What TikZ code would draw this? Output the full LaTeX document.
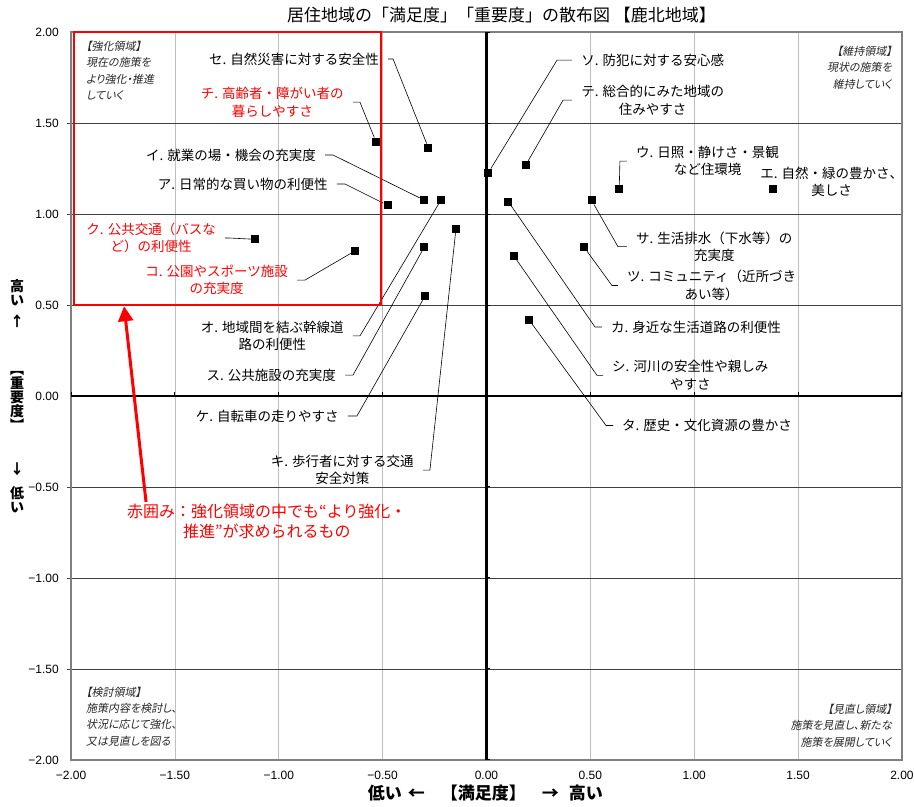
\documentclass[tikz,border=0pt]{standalone}
\usepackage{fontspec}
\setmainfont{Noto Sans CJK JP}
\newfontfamily\notefont{Noto Sans CJK JP}[RawFeature=+palt,FakeSlant=0.2]
\newfontfamily\numfont{Liberation Sans}
\usepackage{tikz}
\usetikzlibrary{positioning,calc,fit,arrows.meta}
\definecolor{colortext}  {RGB}{  0,  0,  0}
\definecolor{colornote}  {RGB}{ 38, 38, 38}
\definecolor{colorgrid}  {RGB}{191,191,191}
\definecolor{colorhgrid} {RGB}{ 64, 64, 64}
\definecolor{colorborder}{RGB}{128,128,128}
\definecolor{colorstress}{RGB}{255,  0,  0}

\begin{document}
\begin{tikzpicture}[
    x=207.75bp, y=182bp,
    base/.style={text=colortext,inner sep=1bp},
    lbl/.style={base,font={\fontsize{13.5bp}{17.5bp}\selectfont},align=center,inner xsep=9bp},
    lblred/.style={lbl,text=colorstress},
    sqpt/.style={rectangle,fill=colortext,minimum size=8bp,inner sep=0pt},
    leader/.style={draw=colortext,line width=0.6bp},
    note/.style={base,text=colornote,font={\notefont\fontsize{11bp}{16.3bp}\selectfont}},
    ticklbl/.style={base,font={\numfont\fontsize{12bp}{14bp}\selectfont}},
    axistitle/.style={base,font={\bfseries\fontsize{14bp}{14bp}\selectfont},align=center},
    vgrid/.style={draw=colorgrid,line width=0.8bp},
    hgrid/.style={draw=colorhgrid,line width=0.9bp},
    zeroaxis/.style={draw=colortext,line width=2.5bp},
    axistick/.style={draw=colortext,line width=1bp},
    redframe/.style={draw=colorstress,line width=2.5bp,inner sep=0pt},
    redarrow/.style={draw=colorstress,line width=3bp,>={Triangle[length=15bp,width=15bp]},->},
]
    \useasboundingbox (-2.342,-2.258) rectangle (2.058,2.176);

    % grid
    \foreach \v in {-1.5,-1,-0.5,0.5,1,1.5} \draw[vgrid] (\v,-2) -- (\v,2);
    \foreach \v in {-1.5,-1,-0.5,0.5,1,1.5} \draw[hgrid] (-2,\v) ++(-4bp,0) -- (2,\v);
    \draw[draw=colorborder,line width=1.5bp] (-2,-2) rectangle (2,2);
    \draw[zeroaxis] (-2,0) -- (2,0);
    \draw[zeroaxis] (0,-2) -- (0,2);
    \foreach \v in {-2,-1.5,-1,-0.5,0.5,1,1.5,2} {
        \draw[axistick] (\v,0) -- ++(0,4bp);
        \draw[axistick] (0,\v) -- ++(4bp,0);
    }

    % scales
    \foreach \v/\t [count=\i] in {-2/−2.00,-1.5/−1.50,-1/−1.00,-0.5/−0.50,0/0.00,0.5/0.50,1/1.00,1.5/1.50,2/2.00} {
        \node[ticklbl]           (xtick\i) at (\v,-2.082) {\t};
        \node[ticklbl,anchor=east] (ytick\i) at (-2.053,\v) {\t};
    }

    \node[base,font={\fontsize{17bp}{18bp}\selectfont}] (title) at (0.072,2.093) {居住地域の「満足度」「重要度」の散布図 【鹿北地域】};
    \node[axistitle,font={\bfseries\fontsize{17bp}{17bp}\selectfont}] (xtitle) at (-0.005,-2.181) {低い\hspace{6bp}←\hspace{16bp}【満足度】\hspace{16bp}→\hspace{10bp}高い};
    \node[axistitle] (ytitle) at (-2.26,0) {高\\い\\[7bp]↑\\[34bp]︻\\重\\要\\度\\︼\\[30bp]↓\\[10bp]低\\い};

    % areas
    \node[note,anchor=north west,align=left]  (noteTL) at (-1.933,1.956)  {【強化領域】\\現在の施策を\\より強化・推進\\していく};
    \node[note,anchor=north east,align=right] (noteTR) at (1.957,1.929)   {【維持領域】\\現状の施策を\\維持していく};
    \node[note,anchor=north west,align=left]  (noteBL) at (-1.933,-1.593) {【検討領域】\\施策内容を検討し、\\状況に応じて強化、\\又は見直しを図る};
    \node[note,anchor=north east,align=right] (noteBR) at (1.957,-1.687)  {【見直し領域】\\施策を見直し、新たな\\施策を展開していく};

    % items
    \node[sqpt] (ptA)   at (-0.476,1.048) {};
    \node[sqpt] (ptI)   at (-0.301,1.077) {};
    \node[sqpt] (ptU)   at (0.639,1.139)  {};
    \node[sqpt] (ptE)   at (1.380,1.139)  {};
    \node[sqpt] (ptO)   at (-0.219,1.077) {};
    \node[sqpt] (ptKa)  at (0.105,1.068)  {};
    \node[sqpt] (ptKi)  at (-0.147,0.919) {};
    \node[sqpt] (ptKu)  at (-1.114,0.861) {};
    \node[sqpt] (ptKe)  at (-0.296,0.549) {};
    \node[sqpt] (ptKo)  at (-0.632,0.798) {};
    \node[sqpt] (ptSa)  at (0.506,1.075)  {};
    \node[sqpt] (ptShi) at (0.131,0.771)  {};
    \node[sqpt] (ptSu)  at (-0.299,0.819) {};
    \node[sqpt] (ptSe)  at (-0.280,1.364) {};
    \node[sqpt] (ptSo)  at (0.009,1.227)  {};
    \node[sqpt] (ptTa)  at (0.205,0.418)  {};
    \node[sqpt] (ptChi) at (-0.532,1.397) {};
    \node[sqpt] (ptTsu) at (0.469,0.819)  {};
    \node[sqpt] (ptTe)  at (0.189,1.269)  {};

    \node[lbl,anchor=east]    (lSe)  at (-0.474,1.852)  {セ. 自然災害に対する安全性};
    \node[lblred,anchor=east] (lChi) at (-0.643,1.615)  {チ. 高齢者・障がい者の\\暮らしやすさ};
    \node[lbl,anchor=east]    (lI)   at (-0.777,1.324)  {イ. 就業の場・機会の充実度};
    \node[lbl,anchor=east]    (lA)   at (-0.720,1.165)  {ア. 日常的な買い物の利便性};
    \node[lblred,anchor=east] (lKu)  at (-1.259,0.868)  {ク. 公共交通（バスな\\ど）の利便性};
    \node[lblred,anchor=east] (lKo)  at (-0.912,0.637)  {コ. 公園やスポーツ施設\\の充実度};
    \node[lbl,anchor=east]    (lO)   at (-0.643,0.330)  {オ. 地域間を結ぶ幹線道\\路の利便性};
    \node[lbl,anchor=east]    (lSu)  at (-0.681,0.115)  {ス. 公共施設の充実度};
    \node[lbl,anchor=east]    (lKe)  at (-0.667,-0.110) {ケ. 自転車の走りやすさ};
    \node[lbl,anchor=east]    (lKi)  at (-0.306,-0.407) {キ. 歩行者に対する交通\\安全対策};

    \node[lbl,anchor=west]    (lSo)  at (0.412,1.846)   {ソ. 防犯に対する安心感};
    \node[lbl,anchor=west]    (lTe)  at (0.412,1.626)   {テ. 総合的にみた地域の\\住みやすさ};
    \node[lbl,anchor=west]    (lU)   at (0.676,1.291)   {ウ. 日照・静けさ・景観\\など住環境};
    \node[lbl]                (lE)   at (1.662,1.176)   {エ. 自然・緑の豊かさ、\\美しさ};
    \node[lbl,anchor=west]    (lSa)  at (0.676,0.821)   {サ. 生活排水（下水等）の\\充実度};
    \node[lbl,anchor=west]    (lTsu) at (0.633,0.607)   {ツ. コミュニティ（近所づき\\あい等）};
    \node[lbl,anchor=west]    (lKa)  at (0.556,0.379)   {カ. 身近な生活道路の利便性};
    \node[lbl,anchor=west]    (lShi) at (0.561,0.113)   {シ. 河川の安全性や親しみ\\やすさ};
    \node[lbl,anchor=west]    (lTa)  at (0.609,-0.162)  {タ. 歴史・文化資源の豊かさ};

    \draw[leader] (lSe.east)  -- ++(5bp,0) -- (ptSe);
    \draw[leader] (lChi.east) -- ++(7bp,0) -- (ptChi);
    \draw[leader] (lI.east)   -- ++(8bp,0) -- (ptI);
    \draw[leader] (lA.east)   -- ++(8bp,0) -- (ptA);
    \draw[leader] (lKu.east)  -- ++(5bp,0) -- (ptKu);
    \draw[leader] (lKo.east)  -- ++(8bp,0) -- (ptKo);
    \draw[leader] (lO.east)   -- ++(7bp,0) -- (ptO);
    \draw[leader] (lSu.east)  -- ++(8bp,0) -- (ptSu);
    \draw[leader] (lKe.east)  -- ++(9bp,0) -- (ptKe);
    \draw[leader] (lKi.east)  -- ++(7bp,0) -- (ptKi);
    \draw[leader] (lSo.west)  -- ++(-15bp,0) -- (ptSo);
    \draw[leader] (lTe.west)  -- ++(-9bp,0) -- (ptTe);
    \draw[leader] (lU.west)   -- ++(-7bp,0) -- (ptU);
    \draw[leader] (lSa.west)  -- ++(-9bp,0) -- (ptSa);
    \draw[leader] (lTsu.west) -- ++(-6bp,0) -- (ptTsu);
    \draw[leader] (lKa.west)  -- ++(-7bp,0) -- (ptKa);
    \draw[leader] (lShi.west) -- ++(-6bp,0) -- (ptShi);
    \draw[leader] (lTa.west)  -- ++(-7bp,0) -- (ptTa);

    % red frame and remark
    \node[redframe,fit={(-1.986,0.5) (-0.508,2)}] (redbox) {};
    \node[base,text=colorstress,font={\fontsize{16bp}{20bp}\selectfont},align=center,anchor=north west,inner sep=2bp] (annot) at (-1.740,-0.582) {赤囲み：強化領域の中でも“より強化・\\推進”が求められるもの};
    \draw[redarrow] ($(annot.north west)+(21bp,0)$) -- ($(redbox.south west)!0.166!(redbox.south east)$);

\end{tikzpicture}
\end{document}
